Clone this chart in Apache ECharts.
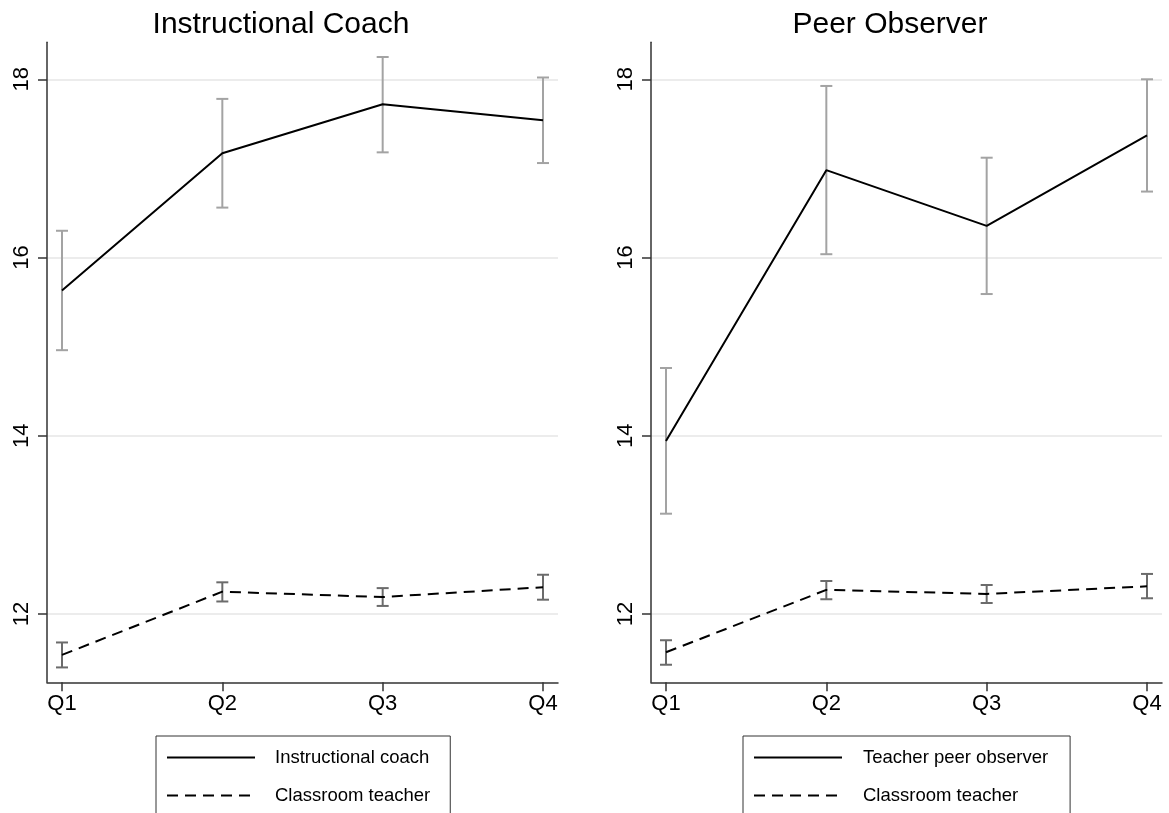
<!DOCTYPE html>
<html>
<head>
<meta charset="utf-8">
<script src="https://cdn.jsdelivr.net/npm/echarts@6/dist/echarts.min.js"></script>
<style>
html,body{margin:0;padding:0;background:#fff;}
#chart{width:1169px;height:813px;}
</style>
</head>
<body>
<div id="chart"></div>
<script>
// ---- data ----
const quarters = ['Q1', 'Q2', 'Q3', 'Q4'];
const yTicks = [12, 14, 16, 18];

const panelTitles = ['Instructional Coach', 'Peer Observer'];

// Left panel: Instructional coach
const coachMean = [15.63, 17.17, 17.72, 17.54];
const coachLow  = [14.96, 16.56, 17.18, 17.06];
const coachHigh = [16.30, 17.78, 18.25, 18.02];
const teacherAMean = [11.54, 12.25, 12.19, 12.30];
const teacherALow  = [11.40, 12.14, 12.09, 12.16];
const teacherAHigh = [11.68, 12.355, 12.29, 12.44];

// Right panel: Teacher peer observer
const peerMean = [13.94, 16.98, 16.355, 17.37];
const peerLow  = [13.125, 16.037, 15.59, 16.74];
const peerHigh = [14.76, 17.925, 17.12, 18.00];
const teacherBMean = [11.57, 12.27, 12.225, 12.31];
const teacherBLow  = [11.43, 12.165, 12.123, 12.176];
const teacherBHigh = [11.705, 12.37, 12.325, 12.449];

// ---- helpers ----
const FONT = 'Liberation Sans, Arial, Helvetica, sans-serif';
const idx = quarters.map((q, i) => i);
function pts(arr) { return arr.map((v, i) => [idx[i], v]); }
function bars(lo, hi) { return lo.map((v, i) => [idx[i], v, hi[i]]); }

function errSeries(lo, hi, gridIndex, color) {
  return {
    type: 'custom',
    xAxisIndex: gridIndex, yAxisIndex: gridIndex,
    silent: true, z: 2,
    data: bars(lo, hi),
    renderItem: function (params, api) {
      const x = api.value(0);
      const a = api.coord([x, api.value(1)]);
      const b = api.coord([x, api.value(2)]);
      const w = 6;
      const st = { stroke: color, lineWidth: 2 };
      return {
        type: 'group',
        children: [
          { type: 'line', shape: { x1: a[0], y1: a[1], x2: b[0], y2: b[1] }, style: st },
          { type: 'line', shape: { x1: a[0] - w, y1: a[1], x2: a[0] + w, y2: a[1] }, style: st },
          { type: 'line', shape: { x1: b[0] - w, y1: b[1], x2: b[0] + w, y2: b[1] }, style: st }
        ]
      };
    }
  };
}
function lineSeries(name, data, gridIndex, dashed) {
  return {
    name: name, type: 'line',
    xAxisIndex: gridIndex, yAxisIndex: gridIndex,
    data: pts(data), symbol: 'none', z: 5, silent: true,
    lineStyle: { color: '#000', width: 2, type: dashed ? [11, 7] : 'solid' },
    itemStyle: { color: '#000' }
  };
}

function xAxisDef(gi) {
  return {
    type: 'value', gridIndex: gi, min: -0.0934, max: 3.0934,
    axisLine: { show: true, onZero: false, lineStyle: { color: '#333', width: 1.5 } },
    axisTick: { show: true, customValues: idx, length: 9, lineStyle: { color: '#333', width: 1.5 } },
    axisLabel: { customValues: idx, formatter: v => quarters[Math.round(v)], fontSize: 22, color: '#000', fontFamily: FONT, margin: 11 },
    splitLine: { show: false }
  };
}
function yAxisDef(gi) {
  return {
    type: 'value', gridIndex: gi, min: 11.233, max: 18.415,
    axisLine: { show: true, onZero: false, lineStyle: { color: '#333', width: 1.5 } },
    axisTick: { show: true, customValues: yTicks, length: 9, lineStyle: { color: '#333', width: 1.5 } },
    axisLabel: { customValues: yTicks, rotate: 90, fontSize: 22, color: '#000', fontFamily: FONT, margin: 14 },
    splitLine: { show: true, lineStyle: { color: '#e6e6e6', width: 1.5 } }
  };
}

function legendDef(names, left, padRight, textPad) {
  return {
    data: names, orient: 'vertical',
    left: left, top: 736, height: 200,
    itemWidth: 88, itemHeight: 18, itemGap: 19,
    padding: [12, padRight, 40, 10], borderColor: '#333', borderWidth: 1,
    selectedMode: false,
    itemStyle: { opacity: 0 },
    textStyle: { fontSize: 18.5, color: '#000', fontFamily: FONT, padding: [0, 0, 0, textPad], lineHeight: 18 }
  };
}

const chart = echarts.init(document.getElementById('chart'), null, { renderer: 'canvas' });
chart.setOption({
  backgroundColor: '#fff',
  animation: false,
  title: [
    { text: panelTitles[0], left: 276, top: 5, textAlign: 'center',
      textStyle: { fontSize: 30, fontWeight: 'normal', color: '#000', fontFamily: FONT } },
    { text: panelTitles[1], left: 885, top: 5, textAlign: 'center',
      textStyle: { fontSize: 30, fontWeight: 'normal', color: '#000', fontFamily: FONT } }
  ],
  grid: [
    { left: 47, right: 611, top: 42.3, bottom: 130.7 },
    { left: 651, right: 7, top: 42.3, bottom: 130.7 }
  ],
  xAxis: [xAxisDef(0), xAxisDef(1)],
  yAxis: [yAxisDef(0), yAxisDef(1)],
  legend: [
    legendDef(['Instructional coach', 'Classroom teacher'], 156, 20, 15),
    legendDef(['Teacher peer observer', 'Classroom teacher '], 743, 22, 16)
  ],
  series: [
    errSeries(coachLow, coachHigh, 0, '#a3a3a3'),
    errSeries(teacherALow, teacherAHigh, 0, '#6b6b6b'),
    lineSeries('Instructional coach', coachMean, 0, false),
    lineSeries('Classroom teacher', teacherAMean, 0, true),
    errSeries(peerLow, peerHigh, 1, '#a3a3a3'),
    errSeries(teacherBLow, teacherBHigh, 1, '#6b6b6b'),
    lineSeries('Teacher peer observer', peerMean, 1, false),
    lineSeries('Classroom teacher ', teacherBMean, 1, true)
  ]
});
</script>
</body>
</html>
